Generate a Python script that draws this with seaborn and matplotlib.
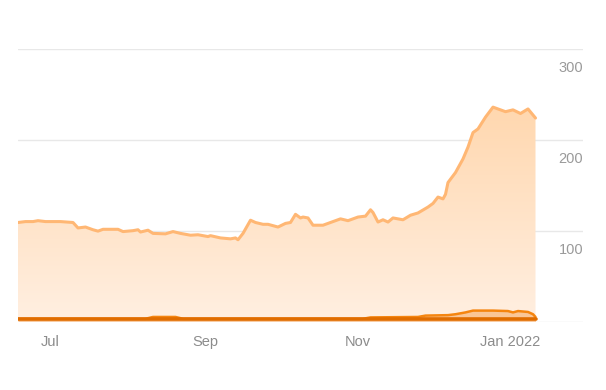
import matplotlib
matplotlib.use("Agg")
import matplotlib.pyplot as plt
import matplotlib.dates as mdates
import numpy as np
import pandas as pd
import seaborn as sns
from matplotlib.colors import LinearSegmentedColormap

# ---- data ----
main_dates = ["2021-06-18", "2021-06-21", "2021-06-24", "2021-06-26", "2021-06-29", "2021-07-01",
              "2021-07-05", "2021-07-10", "2021-07-12", "2021-07-15", "2021-07-18", "2021-07-20",
              "2021-07-22", "2021-07-28", "2021-07-30", "2021-08-03", "2021-08-05", "2021-08-06",
              "2021-08-09", "2021-08-11", "2021-08-16", "2021-08-19", "2021-08-22", "2021-08-26",
              "2021-08-29", "2021-09-02", "2021-09-03", "2021-09-07", "2021-09-11", "2021-09-13",
              "2021-09-14", "2021-09-16", "2021-09-19", "2021-09-21", "2021-09-24", "2021-09-26",
              "2021-09-30", "2021-10-03", "2021-10-05", "2021-10-07", "2021-10-09", "2021-10-10",
              "2021-10-12", "2021-10-14", "2021-10-18", "2021-10-21", "2021-10-25", "2021-10-28",
              "2021-11-01", "2021-11-04", "2021-11-06", "2021-11-07", "2021-11-09", "2021-11-11",
              "2021-11-13", "2021-11-15", "2021-11-19", "2021-11-22", "2021-11-25", "2021-11-29",
              "2021-12-01", "2021-12-03", "2021-12-05", "2021-12-06", "2021-12-07", "2021-12-10",
              "2021-12-13", "2021-12-15", "2021-12-17", "2021-12-19", "2021-12-22", "2021-12-25",
              "2021-12-28", "2021-12-30", "2022-01-02", "2022-01-05", "2022-01-08", "2022-01-11"]
main_values = [109, 110, 110, 111, 110, 110,
               110, 109, 103, 104, 101, 99.5,
               101.5, 101.5, 99, 100, 101, 98.5,
               100.5, 97, 96.5, 99, 97, 95,
               95.5, 93.5, 94.5, 92, 91, 92,
               90, 97, 111.5, 109, 107, 107,
               104, 108, 109, 118, 114, 115,
               114, 106, 106, 109, 113, 111,
               115, 116, 123, 120, 109.5, 112,
               109.5, 114, 112, 117, 119.5, 126,
               130, 137, 135, 140, 153, 164,
               179, 192, 208, 212, 225, 236,
               233, 231, 233, 229, 234, 224]

mid_dates = ["2021-06-18", "2021-08-08", "2021-08-11", "2021-08-20", "2021-08-23", "2021-11-03",
             "2021-11-06", "2021-11-25", "2021-11-28", "2021-12-07", "2021-12-10", "2021-12-14",
             "2021-12-17", "2021-12-25", "2021-12-31", "2022-01-02", "2022-01-04", "2022-01-08",
             "2022-01-10", "2022-01-11"]
mid_values = [3, 3, 5, 5, 3, 3,
              4.5, 5, 6.5, 7, 8, 10,
              12, 12, 11.5, 10, 11.5, 10.5,
              8, 5]

low_dates = ["2021-06-18", "2022-01-11"]
low_values = [2.5, 2.5]

y_ticks = [100, 200, 300]
x_tick_dates = ["2021-07-01", "2021-09-01", "2021-11-01", "2022-01-01"]
x_tick_labels = ["Jul", "Sep", "Nov", "Jan 2022"]

main = pd.DataFrame({"date": pd.to_datetime(main_dates), "value": main_values})
mid = pd.DataFrame({"date": pd.to_datetime(mid_dates), "value": mid_values})
low = pd.DataFrame({"date": pd.to_datetime(low_dates), "value": low_values})

# ---- figure ----
sns.set_style("white")
plt.rcParams["font.family"] = ["Liberation Sans", "DejaVu Sans"]
fig = plt.figure(figsize=(6.06, 3.90), dpi=100)
ax = fig.add_axes([18 / 606, 1 - 321.5 / 390, (583 - 18) / 606, (321.5 - 49) / 390])

xmin = pd.Timestamp("2021-06-18")
xmax = pd.Timestamp("2022-01-30")
ax.set_xlim(xmin, xmax)
ax.set_ylim(0, 300)

# gridlines
for g in [0] + y_ticks:
    ax.axhline(g, color="#e8e8e8", lw=1, zorder=0)

# gradient fill under main series
poly = ax.fill_between(main["date"], main["value"], 0, color="none", lw=0)
cmap = LinearSegmentedColormap.from_list("g", ["#ffefe1", "#ffd7ae"])
grad = np.linspace(0, 1, 256).reshape(-1, 1)
im = ax.imshow(grad, cmap=cmap, aspect="auto", origin="lower",
               extent=[mdates.date2num(xmin), mdates.date2num(xmax), 0, 240], zorder=1)
path = poly.get_paths()[0]
im.set_clip_path(path, transform=ax.transData)
ax.set_xlim(xmin, xmax)
ax.set_ylim(0, 300)

sns.lineplot(data=main, x="date", y="value", ax=ax, color="#ffb774", lw=2.2, zorder=3)

ax.fill_between(mid["date"], mid["value"], 0, color="#f7a65a", alpha=0.55, lw=0, zorder=4)
sns.lineplot(data=mid, x="date", y="value", ax=ax, color="#f5850f", lw=1.8, zorder=5)
sns.lineplot(data=low, x="date", y="value", ax=ax, color="#e06d00", lw=2.6, zorder=6)

# axes styling
for s in ax.spines.values():
    s.set_visible(False)
ax.set_xlabel("")
ax.set_ylabel("")
ax.set_yticks([])
ax.set_xticks(pd.to_datetime(x_tick_dates))
ax.set_xticklabels(x_tick_labels)
ax.tick_params(axis="x", direction="in", length=6, width=0.8, color="#dddddd",
               labelcolor="#8c8c8c", labelsize=10.5, pad=10)

for v in y_ticks:
    ax.annotate(str(v), xy=(1, v), xycoords=("axes fraction", "data"),
                xytext=(0, -14), textcoords="offset points",
                ha="right", va="center", color="#9a9a9a", fontsize=10.5)

fig.savefig("out.png", dpi=100)
